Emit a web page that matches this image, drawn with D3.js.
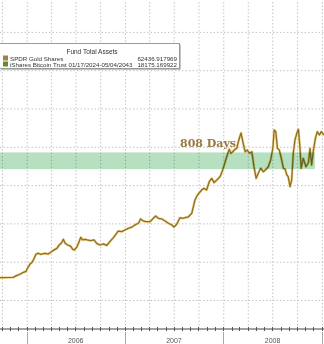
<!DOCTYPE html>
<html>
<head>
<meta charset="utf-8">
<script src="https://cdn.jsdelivr.net/npm/d3@7"></script>
<style>
  body { margin: 0; background: #fff; }
  svg { display: block; }
</style>
</head>
<body>
<div id="chart"></div>
<script>
// data
var goldDates = [
  "2005-09-24","2005-11-12","2005-11-22","2005-12-07","2005-12-20","2005-12-30",
  "2006-01-03","2006-01-13","2006-01-21","2006-01-26","2006-02-05","2006-02-13","2006-02-22",
  "2006-03-10","2006-03-22","2006-03-29","2006-04-08","2006-04-23","2006-05-02","2006-05-11",
  "2006-05-17","2006-05-24","2006-06-02","2006-06-13","2006-06-21","2006-06-26","2006-07-06",
  "2006-07-13","2006-07-21","2006-07-28","2006-08-06","2006-08-14","2006-08-27","2006-09-08",
  "2006-09-18","2006-09-30","2006-10-13","2006-10-25","2006-11-06","2006-11-19","2006-12-07",
  "2006-12-20","2007-01-01","2007-01-13","2007-01-26","2007-02-07","2007-02-20","2007-02-28",
  "2007-03-10","2007-03-20","2007-04-04","2007-04-16","2007-04-25","2007-05-05","2007-05-17",
  "2007-05-30","2007-06-11","2007-06-24","2007-07-02","2007-07-12","2007-07-24","2007-08-03",
  "2007-08-12","2007-08-24","2007-09-06","2007-09-12","2007-09-18","2007-09-27","2007-10-04",
  "2007-10-13","2007-10-21","2007-10-31","2007-11-10","2007-11-19","2007-11-28","2007-12-08",
  "2007-12-20","2007-12-30","2008-01-07","2008-01-16","2008-01-23","2008-01-29","2008-02-05",
  "2008-02-14","2008-02-20","2008-02-26","2008-03-02","2008-03-07","2008-03-15","2008-03-22",
  "2008-03-30","2008-04-07","2008-04-16","2008-04-24","2008-05-02","2008-05-10","2008-05-19",
  "2008-05-29","2008-06-08","2008-06-16","2008-06-25","2008-07-03","2008-07-08","2008-07-14",
  "2008-07-20","2008-07-27","2008-08-05","2008-08-11","2008-08-18","2008-08-24","2008-08-29",
  "2008-09-05","2008-09-11","2008-09-17","2008-09-23","2008-09-30","2008-10-06","2008-10-12",
  "2008-10-16","2008-10-24","2008-11-03","2008-11-12","2008-11-18","2008-11-24","2008-11-30",
  "2008-12-08","2008-12-15","2008-12-23","2008-12-30","2009-01-09"
];
var goldAssets = [
  3960,3980,4070,4180,4310,4370,
  4540,4830,4960,5110,5500,5550,5480,
  5550,5500,5590,5720,5870,6090,6240,
  6460,6200,6090,6020,5810,5760,5940,
  6240,6590,6420,6460,6420,6370,6420,
  6200,6090,6160,6060,6310,6570,7000,
  6960,7070,7180,7250,7400,7510,7790,
  7660,7610,7610,7830,7980,7830,7790,
  7660,7510,7400,7260,7440,7870,7830,
  7870,7920,8160,8590,9030,9350,9500,
  9680,9790,9680,10220,10440,10160,10330,
  10550,10990,11460,11960,12340,12080,12180,
  12340,12400,12830,13140,13400,12730,12180,
  12290,12080,12180,11200,10440,10770,11100,
  10870,11030,11200,11640,12400,13600,13490,
  12400,12290,11640,11100,11030,10660,10550,
  9900,10330,12080,12940,13380,13640,12400,
  11100,11750,11200,11460,12400,11310,12180,
  13050,13490,13270,13490,13270
];
var yTicks = [2500, 5000, 7500, 10000, 12500, 15000, 17500, 20000];
var yearLabels = ["2006", "2007", "2008"];
var bandFrom = "2005-09-24", bandTo = "2008-12-06";
var bandLow = 11040, bandHigh = 12130;
var bandLabel = "808 Days";
var legendTitle = "Fund Total Assets";
var legendNames = ["SPDR Gold Shares", "iShares Bitcoin Trust 01/17/2024-05/04/2043"];
var legendValues = ["62436.917969", "18175.169922"];
var legendColors = ["#a3823d", "#5f8f2c"];

var W = 324, H = 344, axisY = 329;
var parse = d3.timeParse("%Y-%m-%d");
var series = goldDates.map(function(d, i) { return { date: parse(d), value: goldAssets[i] }; });

var x = d3.scaleTime()
  .domain([new Date(2005, 8, 24), new Date(2009, 0, 9)])
  .range([0, W]);
var y = d3.scaleLinear()
  .domain([607, 22082])
  .range([axisY, 0]);

var svg = d3.select("#chart").append("svg")
  .attr("width", W).attr("height", H)
  .style("font-family", "'Liberation Sans', Arial, sans-serif");

// grid
var gx = svg.append("g")
  .attr("transform", "translate(0," + axisY + ")")
  .call(d3.axisBottom(x).ticks(d3.timeMonth.every(3)).tickSize(-axisY).tickFormat(""));
var gy = svg.append("g")
  .call(d3.axisLeft(y).tickValues(yTicks).tickSize(-W).tickFormat(""));
[gx, gy].forEach(function(g) {
  g.select(".domain").remove();
  g.selectAll("line").attr("stroke", "#c4c4c4").attr("stroke-dasharray", "1.5,2");
});

// line (halo + stroke)
var line = d3.line().x(function(d) { return x(d.date); }).y(function(d) { return y(d.value); });
svg.append("path").datum(series)
  .attr("fill", "none").attr("stroke", "#efd68f").attr("stroke-width", 2.6)
  .attr("stroke-linejoin", "round").attr("d", line);
svg.append("path").datum(series)
  .attr("fill", "none").attr("stroke", "#8c6e27").attr("stroke-width", 1.3)
  .attr("stroke-linejoin", "round").attr("d", line);

// band
svg.append("rect")
  .attr("x", x(parse(bandFrom)))
  .attr("y", y(bandHigh))
  .attr("width", x(parse(bandTo)) - x(parse(bandFrom)))
  .attr("height", y(bandLow) - y(bandHigh))
  .attr("fill", "#b6e0c0")
  .style("mix-blend-mode", "multiply");

svg.append("text")
  .attr("x", 180).attr("y", y(bandHigh) - 5)
  .attr("font-family", "'DejaVu Serif', serif")
  .attr("font-weight", "bold").attr("font-size", 11)
  .attr("fill", "#987a3e")
  .text(bandLabel);

// x axis
svg.append("line").attr("x1", 0).attr("x2", W).attr("y1", axisY).attr("y2", axisY)
  .attr("stroke", "#444").attr("stroke-width", 1);
svg.selectAll(".mtick").data(x.ticks(d3.timeMonth.every(1))).enter().append("line")
  .attr("x1", function(d) { return Math.round(x(d)) + 0.5; })
  .attr("x2", function(d) { return Math.round(x(d)) + 0.5; })
  .attr("y1", axisY - 2).attr("y2", axisY + 2)
  .attr("stroke", "#555");
svg.selectAll(".ysep").data(x.ticks(d3.timeYear.every(1))).enter().append("line")
  .attr("x1", function(d) { return Math.round(x(d)) + 0.5; })
  .attr("x2", function(d) { return Math.round(x(d)) + 0.5; })
  .attr("y1", axisY + 3).attr("y2", H)
  .attr("stroke", "#aaa");
svg.selectAll(".ylab").data(yearLabels).enter().append("text")
  .attr("x", function(d) { return x(new Date(+d, 6, 2)); })
  .attr("y", 343)
  .attr("text-anchor", "middle")
  .attr("font-size", 7).attr("fill", "#555")
  .text(function(d) { return d; });

// legend
var lg = svg.append("g");
lg.append("rect").attr("x", 1.5).attr("y", 44.5).attr("width", 179).attr("height", 25)
  .attr("fill", "#888");
lg.append("rect").attr("x", -0.5).attr("y", 43.5).attr("width", 180).attr("height", 25)
  .attr("fill", "#fff").attr("stroke", "#9a9a9a");
lg.append("text").attr("x", 92).attr("y", 53.5).attr("text-anchor", "middle")
  .attr("font-size", 6.5).attr("fill", "#333").text(legendTitle);
legendNames.forEach(function(name, i) {
  var ry = 60.5 + i * 6;
  lg.append("rect").attr("x", 3).attr("y", ry - 5).attr("width", 5).attr("height", 5)
    .attr("fill", legendColors[i]);
  lg.append("text").attr("x", 10).attr("y", ry).attr("font-size", 6.2).attr("fill", "#333")
    .text(name);
  lg.append("text").attr("x", 177).attr("y", ry).attr("text-anchor", "end")
    .attr("font-size", 6.2).attr("fill", "#333").text(legendValues[i]);
});
</script>
</body>
</html>
